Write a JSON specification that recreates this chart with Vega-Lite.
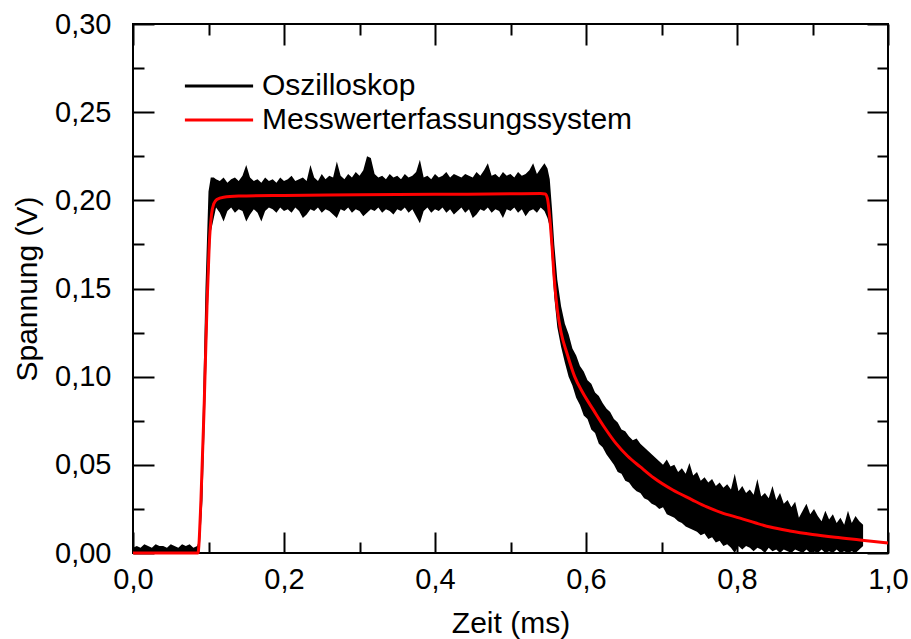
{
"$schema":"https://vega.github.io/schema/vega-lite/v6.json",
"width":755,"height":529,
"autosize":{"type":"none"},
"padding":{"left":133,"top":24,"right":23,"bottom":86},
"background":"white",
"datasets":{
"osc":[
{"t":0,"l":0,"h":0.003},{"t":0.005,"l":0,"h":0.004},{"t":0.01,"l":0,"h":0.003},{"t":0.015,"l":0,"h":0.005},{"t":0.02,"l":0,"h":0.004},{"t":0.025,"l":0,"h":0.003},{"t":0.03,"l":0,"h":0.005},{"t":0.035,"l":0,"h":0.004},{"t":0.04,"l":0,"h":0.004},{"t":0.045,"l":0,"h":0.003},{"t":0.05,"l":0,"h":0.005},{"t":0.055,"l":0,"h":0.004},{"t":0.06,"l":0,"h":0.003},{"t":0.065,"l":0,"h":0.005},{"t":0.07,"l":0,"h":0.004},{"t":0.075,"l":0,"h":0.005},{"t":0.08,"l":0,"h":0.003},{"t":0.085,"l":0,"h":0.004},
{"t":0.088,"l":0,"h":0.008},{"t":0.092,"l":0.03,"h":0.07},{"t":0.096,"l":0.09,"h":0.15},{"t":0.1,"l":0.15,"h":0.205},{"t":0.103,"l":0.182,"h":0.213},{"t":0.107,"l":0.19,"h":0.213},
{"t":0.11,"l":0.196,"h":0.212},{"t":0.115,"l":0.193,"h":0.211},{"t":0.12,"l":0.188,"h":0.213},{"t":0.125,"l":0.194,"h":0.21},{"t":0.13,"l":0.196,"h":0.212},{"t":0.135,"l":0.193,"h":0.213},{"t":0.14,"l":0.195,"h":0.211},{"t":0.145,"l":0.194,"h":0.214},{"t":0.15,"l":0.188,"h":0.22},{"t":0.155,"l":0.192,"h":0.213},{"t":0.16,"l":0.195,"h":0.211},{"t":0.165,"l":0.193,"h":0.212},{"t":0.17,"l":0.188,"h":0.21},{"t":0.175,"l":0.194,"h":0.213},{"t":0.18,"l":0.196,"h":0.211},{"t":0.185,"l":0.195,"h":0.212},{"t":0.19,"l":0.193,"h":0.21},{"t":0.195,"l":0.196,"h":0.213},{"t":0.2,"l":0.194,"h":0.211},{"t":0.205,"l":0.195,"h":0.212},{"t":0.21,"l":0.193,"h":0.214},{"t":0.215,"l":0.196,"h":0.211},{"t":0.22,"l":0.194,"h":0.212},{"t":0.225,"l":0.19,"h":0.213},{"t":0.23,"l":0.192,"h":0.211},{"t":0.235,"l":0.195,"h":0.22},{"t":0.24,"l":0.194,"h":0.213},{"t":0.245,"l":0.196,"h":0.211},{"t":0.25,"l":0.193,"h":0.215},{"t":0.255,"l":0.195,"h":0.212},{"t":0.26,"l":0.194,"h":0.214},{"t":0.265,"l":0.192,"h":0.213},{"t":0.27,"l":0.19,"h":0.222},{"t":0.275,"l":0.195,"h":0.214},{"t":0.28,"l":0.194,"h":0.212},{"t":0.285,"l":0.196,"h":0.215},{"t":0.29,"l":0.193,"h":0.213},{"t":0.295,"l":0.195,"h":0.216},{"t":0.3,"l":0.194,"h":0.214},{"t":0.305,"l":0.191,"h":0.217},{"t":0.31,"l":0.193,"h":0.225},{"t":0.315,"l":0.195,"h":0.224},{"t":0.32,"l":0.194,"h":0.215},{"t":0.325,"l":0.196,"h":0.213},{"t":0.33,"l":0.193,"h":0.214},{"t":0.335,"l":0.195,"h":0.212},{"t":0.34,"l":0.194,"h":0.215},{"t":0.345,"l":0.192,"h":0.213},{"t":0.35,"l":0.195,"h":0.214},{"t":0.355,"l":0.194,"h":0.212},{"t":0.36,"l":0.196,"h":0.215},{"t":0.365,"l":0.193,"h":0.213},{"t":0.37,"l":0.195,"h":0.214},{"t":0.375,"l":0.191,"h":0.216},{"t":0.38,"l":0.187,"h":0.223},{"t":0.385,"l":0.194,"h":0.213},{"t":0.39,"l":0.196,"h":0.214},{"t":0.395,"l":0.193,"h":0.212},{"t":0.4,"l":0.195,"h":0.215},{"t":0.405,"l":0.194,"h":0.213},{"t":0.41,"l":0.196,"h":0.214},{"t":0.415,"l":0.193,"h":0.216},{"t":0.42,"l":0.195,"h":0.213},{"t":0.425,"l":0.192,"h":0.215},{"t":0.43,"l":0.194,"h":0.214},{"t":0.435,"l":0.196,"h":0.213},{"t":0.44,"l":0.193,"h":0.215},{"t":0.445,"l":0.195,"h":0.214},{"t":0.45,"l":0.19,"h":0.213},{"t":0.455,"l":0.192,"h":0.216},{"t":0.46,"l":0.195,"h":0.214},{"t":0.465,"l":0.194,"h":0.217},{"t":0.47,"l":0.196,"h":0.221},{"t":0.475,"l":0.193,"h":0.214},{"t":0.48,"l":0.195,"h":0.215},{"t":0.485,"l":0.194,"h":0.213},{"t":0.49,"l":0.19,"h":0.216},{"t":0.495,"l":0.195,"h":0.214},{"t":0.5,"l":0.194,"h":0.215},{"t":0.505,"l":0.196,"h":0.213},{"t":0.51,"l":0.193,"h":0.216},{"t":0.515,"l":0.195,"h":0.214},{"t":0.52,"l":0.191,"h":0.215},{"t":0.525,"l":0.194,"h":0.217},{"t":0.53,"l":0.195,"h":0.221},{"t":0.535,"l":0.193,"h":0.215},{"t":0.54,"l":0.196,"h":0.218},{"t":0.545,"l":0.194,"h":0.221},{"t":0.549,"l":0.19,"h":0.218},
{"t":0.552,"l":0.185,"h":0.212},{"t":0.555,"l":0.165,"h":0.195},{"t":0.558,"l":0.145,"h":0.175},{"t":0.562,"l":0.128,"h":0.155},{"t":0.567,"l":0.117,"h":0.14},{"t":0.572,"l":0.108,"h":0.13},{"t":0.577,"l":0.1,"h":0.124},{"t":0.582,"l":0.095,"h":0.116},{"t":0.587,"l":0.088,"h":0.112},{"t":0.592,"l":0.084,"h":0.106},{"t":0.597,"l":0.078,"h":0.103},{"t":0.602,"l":0.076,"h":0.098},{"t":0.607,"l":0.07,"h":0.096},{"t":0.612,"l":0.068,"h":0.091},{"t":0.617,"l":0.062,"h":0.089},{"t":0.622,"l":0.06,"h":0.085},{"t":0.627,"l":0.056,"h":0.082},{"t":0.632,"l":0.053,"h":0.08},{"t":0.637,"l":0.05,"h":0.076},{"t":0.642,"l":0.046,"h":0.074},{"t":0.647,"l":0.045,"h":0.07},{"t":0.652,"l":0.041,"h":0.069},{"t":0.657,"l":0.04,"h":0.066},{"t":0.662,"l":0.037,"h":0.064},{"t":0.667,"l":0.035,"h":0.065},{"t":0.672,"l":0.034,"h":0.062},{"t":0.677,"l":0.031,"h":0.06},{"t":0.682,"l":0.03,"h":0.058},{"t":0.687,"l":0.028,"h":0.056},{"t":0.692,"l":0.027,"h":0.054},{"t":0.697,"l":0.025,"h":0.052},{"t":0.702,"l":0.026,"h":0.05},{"t":0.707,"l":0.022,"h":0.053},{"t":0.712,"l":0.021,"h":0.049},{"t":0.717,"l":0.02,"h":0.05},{"t":0.722,"l":0.018,"h":0.046},{"t":0.727,"l":0.017,"h":0.048},{"t":0.732,"l":0.015,"h":0.045},{"t":0.737,"l":0.014,"h":0.051},{"t":0.742,"l":0.013,"h":0.044},{"t":0.747,"l":0.012,"h":0.046},{"t":0.752,"l":0.01,"h":0.041},{"t":0.757,"l":0.011,"h":0.043},{"t":0.762,"l":0.008,"h":0.04},{"t":0.767,"l":0.009,"h":0.042},{"t":0.772,"l":0.006,"h":0.038},{"t":0.777,"l":0.007,"h":0.04},{"t":0.782,"l":0.004,"h":0.037},{"t":0.787,"l":0.005,"h":0.039},{"t":0.792,"l":0.003,"h":0.036},{"t":0.797,"l":0,"h":0.045},{"t":0.802,"l":0.004,"h":0.035},{"t":0.807,"l":0.002,"h":0.038},{"t":0.812,"l":0.004,"h":0.034},{"t":0.817,"l":0.003,"h":0.036},{"t":0.822,"l":0.001,"h":0.033},{"t":0.827,"l":0.003,"h":0.042},{"t":0.832,"l":0.002,"h":0.032},{"t":0.837,"l":0,"h":0.034},{"t":0.842,"l":0.003,"h":0.031},{"t":0.847,"l":0.001,"h":0.038},{"t":0.852,"l":0.002,"h":0.03},{"t":0.857,"l":0,"h":0.034},{"t":0.862,"l":0.002,"h":0.028},{"t":0.867,"l":0.001,"h":0.03},{"t":0.872,"l":0,"h":0.026},{"t":0.877,"l":0.002,"h":0.029},{"t":0.882,"l":0.001,"h":0.02},{"t":0.887,"l":0,"h":0.024},{"t":0.892,"l":0.002,"h":0.028},{"t":0.897,"l":0,"h":0.022},{"t":0.902,"l":0.001,"h":0.025},{"t":0.907,"l":0,"h":0.021},{"t":0.912,"l":0.002,"h":0.018},{"t":0.917,"l":0,"h":0.024},{"t":0.922,"l":0.001,"h":0.019},{"t":0.927,"l":0,"h":0.022},{"t":0.932,"l":0.002,"h":0.017},{"t":0.937,"l":0,"h":0.02},{"t":0.942,"l":0.001,"h":0.016},{"t":0.947,"l":0,"h":0.024},{"t":0.952,"l":0.001,"h":0.017},{"t":0.957,"l":0,"h":0.021},{"t":0.962,"l":0.002,"h":0.018},{"t":0.967,"l":0.004,"h":0.016}
],
"mes":[
{"t":0,"v":0},{"t":0.086,"v":0},{"t":0.09,"v":0.03},{"t":0.094,"v":0.08},{"t":0.098,"v":0.14},{"t":0.101,"v":0.175},{"t":0.104,"v":0.192},{"t":0.107,"v":0.198},{"t":0.111,"v":0.2005},{"t":0.12,"v":0.2018},{"t":0.14,"v":0.2024},{"t":0.2,"v":0.2028},{"t":0.3,"v":0.2031},{"t":0.4,"v":0.2034},{"t":0.5,"v":0.2037},{"t":0.54,"v":0.2039},{"t":0.546,"v":0.2036},{"t":0.549,"v":0.201},{"t":0.552,"v":0.19},{"t":0.555,"v":0.174},{"t":0.558,"v":0.155},{"t":0.562,"v":0.138},{"t":0.567,"v":0.125},{"t":0.575,"v":0.113},{"t":0.585,"v":0.1},{"t":0.596,"v":0.0907},{"t":0.61,"v":0.081},{"t":0.625,"v":0.0709},{"t":0.64,"v":0.062},{"t":0.655,"v":0.055},{"t":0.672,"v":0.0488},{"t":0.69,"v":0.0425},{"t":0.715,"v":0.0357},{"t":0.74,"v":0.0303},{"t":0.76,"v":0.0261},{"t":0.78,"v":0.0228},{"t":0.804,"v":0.0198},{"t":0.825,"v":0.017},{"t":0.844,"v":0.0147},{"t":0.87,"v":0.0125},{"t":0.9,"v":0.0105},{"t":0.93,"v":0.0089},{"t":0.963,"v":0.0074},{"t":1.0,"v":0.0057}
]
},
"layer":[
{"data":{"name":"osc"},
 "mark":{"type":"area"},
 "encoding":{
  "x":{"field":"t","type":"quantitative","scale":{"domain":[0,1],"nice":false},
       "axis":{"orient":"bottom","values":[0,0.2,0.4,0.6,0.8,1],"tickSize":-21,"labelPadding":33,"labelExpr":"replace(format(datum.value,'.1f'),'.',',')","title":"Zeit (ms)","titlePadding":14}},
  "y":{"field":"l","type":"quantitative","scale":{"domain":[0,0.3],"nice":false},
       "axis":{"orient":"left","values":[0,0.05,0.1,0.15,0.2,0.25,0.3],"tickSize":-21,"labelPadding":43,"labelExpr":"replace(format(datum.value,'.2f'),'.',',')","title":"Spannung (V)","titlePadding":12}},
  "y2":{"field":"h"},
  "color":{"datum":"Oszilloskop","type":"nominal",
    "scale":{"domain":["Oszilloskop","Messwerterfassungssystem"],"range":["#000000","#ff0000"]},
    "legend":{"orient":"none","legendX":71,"legendY":47,"title":null,"symbolType":"M-3.1,0H3.1","symbolSize":484,"symbolStrokeWidth":3,"labelFont":"Liberation Sans","labelFontSize":30,"labelColor":"black","labelOffset":28,"labelLimit":0,"rowPadding":4,"padding":0,
      "encode":{"symbols":{"update":{"stroke":{"scale":"color","field":"value"},"fill":{"value":"transparent"},"strokeWidth":{"value":3},"opacity":{"value":1}}}}}}
 }},
{"data":{"name":"mes"},
 "mark":{"type":"line","strokeWidth":3,"interpolate":"monotone"},
 "encoding":{
  "x":{"field":"t","type":"quantitative","axis":{"orient":"top","values":[0,0.2,0.4,0.6,0.8,1],"tickSize":-21,"labels":false,"title":null}},
  "y":{"field":"v","type":"quantitative","axis":{"orient":"right","values":[0,0.05,0.1,0.15,0.2,0.25,0.3],"tickSize":-21,"labels":false,"title":null}},
  "color":{"datum":"Messwerterfassungssystem","type":"nominal"}
 }},
{"data":{"name":"mes"},
 "mark":{"type":"line","opacity":0},
 "encoding":{
  "x":{"field":"t","type":"quantitative","axis":{"orient":"bottom","values":[0.1,0.3,0.5,0.7,0.9],"tickSize":-11,"labels":false,"title":null}},
  "y":{"field":"v","type":"quantitative","axis":{"orient":"left","values":[0.025,0.075,0.125,0.175,0.225,0.275],"tickSize":-11,"labels":false,"title":null}}
 }},
{"data":{"name":"mes"},
 "mark":{"type":"line","opacity":0},
 "encoding":{
  "x":{"field":"t","type":"quantitative","axis":{"orient":"top","values":[0.1,0.3,0.5,0.7,0.9],"tickSize":-11,"labels":false,"title":null}},
  "y":{"field":"v","type":"quantitative","axis":{"orient":"right","values":[0.025,0.075,0.125,0.175,0.225,0.275],"tickSize":-11,"labels":false,"title":null}}
 }}
],
"resolve":{"axis":{"x":"independent","y":"independent"}},
"config":{
 "view":{"stroke":"black","strokeWidth":2},
 "axis":{"grid":false,"domain":false,"tickColor":"black","tickWidth":2,"labelFont":"Liberation Sans","labelFontSize":29,"labelColor":"black","labelFlush":false,"labelOverlap":false,"titleFont":"Liberation Sans","titleFontSize":30,"titleFontWeight":"normal","titleColor":"black"}
}
}
